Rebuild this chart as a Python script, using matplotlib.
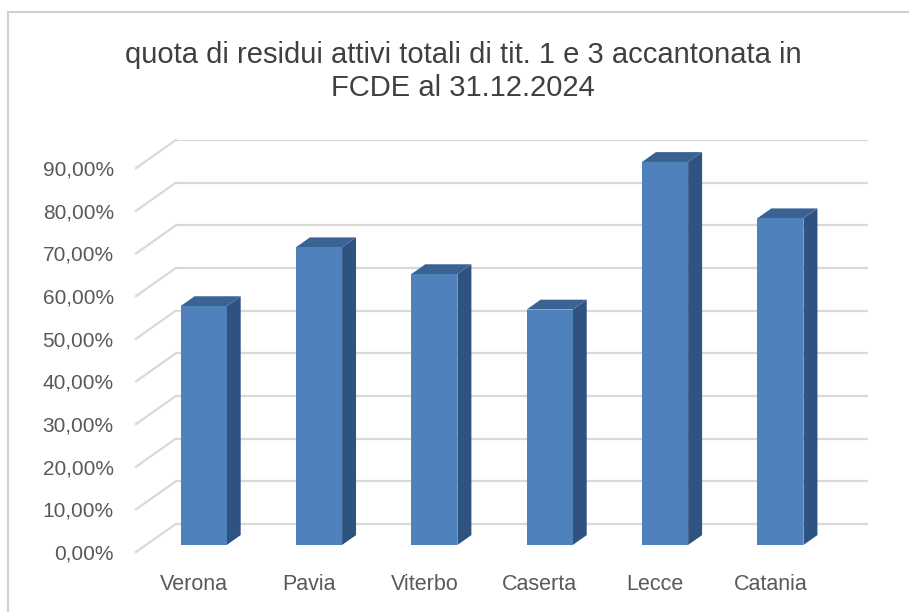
import numpy as np
import matplotlib.pyplot as plt
from matplotlib.patches import Polygon
from matplotlib.lines import Line2D

# Dati
citta = ["Verona", "Pavia", "Viterbo", "Caserta", "Lecce", "Catania"]
quote = [56.0, 69.8, 63.5, 55.2, 89.8, 76.6]
tick_valori = [0, 10, 20, 30, 40, 50, 60, 70, 80, 90]
tick_etichette = ["0,00%", "10,00%", "20,00%", "30,00%", "40,00%",
                  "50,00%", "60,00%", "70,00%", "80,00%", "90,00%"]
titolo = "quota di residui attivi totali di tit. 1 e 3 accantonata in\nFCDE al 31.12.2024"

plt.rcParams['font.family'] = ['Liberation Sans', 'DejaVu Sans']

# Profondita' obliqua (in unita' dei dati)
DX = 0.346   # spostamento in x della parete di fondo
DY = 6.6     # spostamento in y della parete di fondo
f0, f1 = 0.25, 0.60   # profondita' frontale e posteriore delle barre
larg = 0.40

fig = plt.figure(figsize=(9.09, 6.12), dpi=100)
ax = fig.add_axes([136 / 909, 60 / 612, 732 / 909, 412 / 612])
x0, x1 = -0.5, len(citta) - 0.5
ax.set_xlim(x0, x1 + DX)
ax.set_ylim(0, 90 + DY)

# Griglia: parete di fondo + diagonali sul lato sinistro
grigio = '#d9d9d9'
for v in tick_valori:
    ax.add_line(Line2D([x0 + DX, x1 + DX], [v + DY, v + DY], color=grigio, lw=1.6, zorder=1))
    ax.add_line(Line2D([x0, x0 + DX], [v, v + DY], color=grigio, lw=1.6, zorder=1,
                       clip_on=False))

# Barre 3D
fronte = '#4f81bd'
lato = '#2f5381'
sopra = '#3a6293'
for i, q in enumerate(quote):
    sx = i - larg / 2 + f0 * DX
    dx = sx + larg
    base = f0 * DY
    top = q + base
    ox = (f1 - f0) * DX
    oy = (f1 - f0) * DY
    ax.add_patch(Polygon([(dx, base), (dx + ox, base + oy), (dx + ox, top + oy), (dx, top)],
                         closed=True, facecolor=lato, edgecolor='none', zorder=3))
    ax.add_patch(Polygon([(sx, top), (sx + ox, top + oy), (dx + ox, top + oy), (dx, top)],
                         closed=True, facecolor=sopra, edgecolor='none', zorder=3))
    ax.bar(sx + larg / 2, q, width=larg, bottom=base, color=fronte, zorder=4)

ax.set_yticks(tick_valori)
ax.set_yticklabels(tick_etichette, fontsize=15, color='#595959')
ax.set_xticks(range(len(citta)))
ax.set_xticklabels(citta, fontsize=15.5, color='#595959')
ax.tick_params(axis='y', length=0, pad=16)
ax.tick_params(axis='x', length=0, pad=16)
for s in ax.spines.values():
    s.set_visible(False)

fig.text(463 / 909, 1 - 41 / 612, titolo, ha='center', va='top', fontsize=21,
         color='#404040', linespacing=1.22)

# Bordo del grafico
fig.add_artist(Line2D([8 / 909, 1], [1 - 12 / 612, 1 - 12 / 612], color='#d0d0d0', lw=1.5))
fig.add_artist(Line2D([8 / 909, 8 / 909], [0, 1 - 12 / 612], color='#d0d0d0', lw=1.5))

fig.savefig('out.png', dpi=100)
